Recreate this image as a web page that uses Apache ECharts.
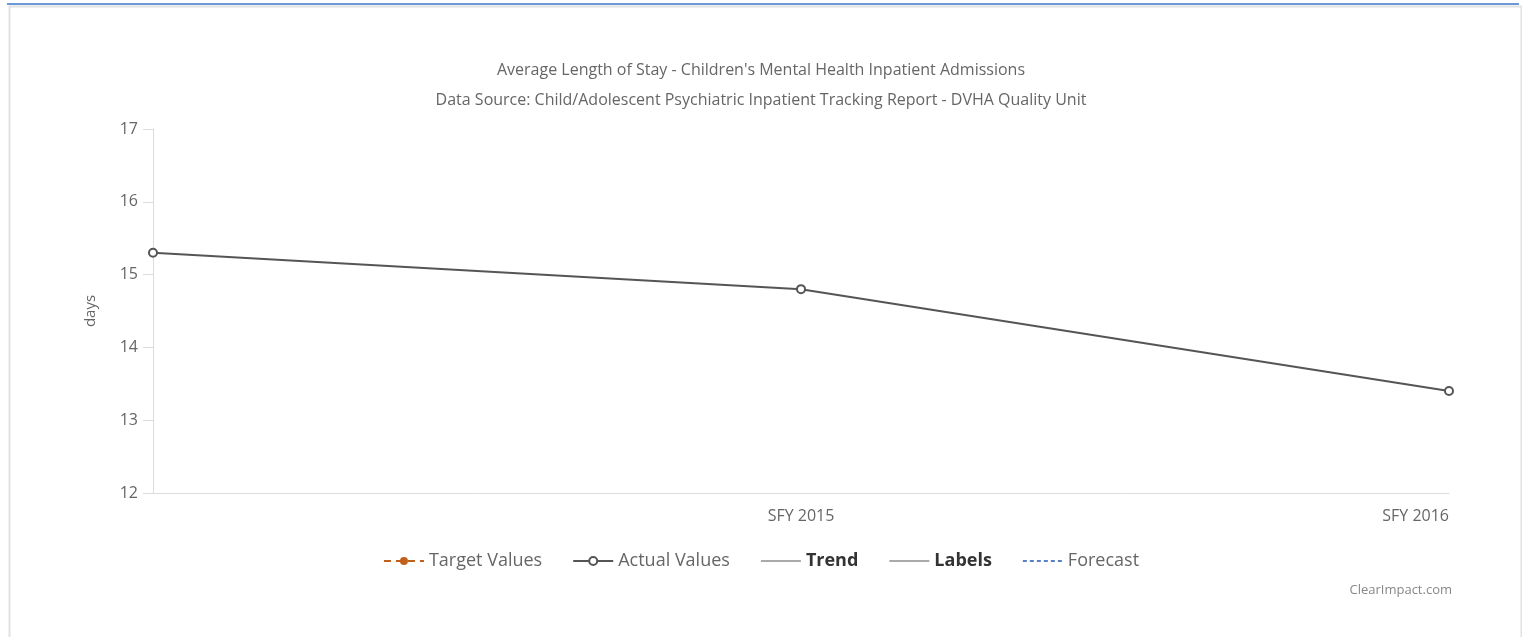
<!DOCTYPE html>
<html><head><meta charset="utf-8">
<script src="https://cdn.jsdelivr.net/npm/echarts@6/dist/echarts.min.js"></script>
<style>html,body{margin:0;padding:0;background:#fff}#c{width:1522px;height:637px}</style>
</head><body><div id="c"></div>
<script>
const categories = ['', 'SFY 2015', 'SFY 2016'];
const actualValues = [15.3, 14.8, 13.4];
const targetValues = [];
const trendValues = [];
const labelValues = [];
const forecastValues = [];
const yTicks = [12, 13, 14, 15, 16, 17];

const FONT = '"Open Sans", "Noto Sans", sans-serif';
const chart = echarts.init(document.getElementById('c'));
chart.setOption({
  animation: false,
  backgroundColor: '#fff',
  textStyle: { fontFamily: FONT },
  title: {
    left: 'center', top: 54,
    text: "Average Length of Stay - Children's Mental Health Inpatient Admissions",
    subtext: 'Data Source: Child/Adolescent Psychiatric Inpatient Tracking Report - DVHA Quality Unit',
    itemGap: 8,
    textStyle: { fontSize: 16, fontWeight: 'normal', color: '#666', fontFamily: FONT, lineHeight: 22 },
    subtextStyle: { fontSize: 16, color: '#666', fontFamily: FONT, lineHeight: 22 }
  },
  grid: { left: 153, right: 73, top: 129, bottom: 144, containLabel: false },
  xAxis: {
    type: 'category', data: categories, boundaryGap: false,
    axisLine: { lineStyle: { color: '#dcdcdc', width: 1 } },
    axisTick: { show: false },
    axisLabel: { color: '#666', fontSize: 16, margin: 15, alignMaxLabel: 'right', fontFamily: FONT },
    splitLine: { show: false }
  },
  yAxis: {
    type: 'value', min: yTicks[0], max: yTicks[yTicks.length - 1], interval: 1,
    name: 'days', nameLocation: 'middle', nameGap: 55,
    nameTextStyle: { color: '#666', fontSize: 15, fontFamily: FONT },
    axisLine: { show: true, lineStyle: { color: '#dcdcdc' } },
    axisTick: { show: true, length: 10, lineStyle: { color: '#dcdcdc' } },
    axisLabel: { color: '#666', fontSize: 16, margin: 15, fontFamily: FONT },
    splitLine: { show: false }
  },
  legend: {
    bottom: 62, left: 'center', itemGap: 30, itemWidth: 40, itemHeight: 10,
    textStyle: { fontSize: 18, color: '#666', fontFamily: FONT },
    data: [
      { name: 'Target Values' },
      { name: 'Actual Values' },
      { name: 'Trend', itemStyle: { opacity: 0 }, textStyle: { color: '#333', fontWeight: 'bold' } },
      { name: 'Labels', itemStyle: { opacity: 0 }, textStyle: { color: '#333', fontWeight: 'bold' } },
      { name: 'Forecast', itemStyle: { opacity: 0 } }
    ]
  },
  series: [
    { name: 'Target Values', type: 'line', data: targetValues, symbol: 'circle', symbolSize: 10,
      lineStyle: { color: '#c0601a', type: [7, 5], width: 2 }, itemStyle: { color: '#c0601a' } },
    { name: 'Actual Values', type: 'line', data: actualValues, symbol: 'emptyCircle', symbolSize: 8,
      lineStyle: { color: '#555', width: 2 }, itemStyle: { color: '#555', borderWidth: 1.5 } },
    { name: 'Trend', type: 'line', data: trendValues, symbol: 'none', showSymbol: false,
      lineStyle: { color: '#aaa', width: 1.5 }, itemStyle: { color: '#aaa' } },
    { name: 'Labels', type: 'line', data: labelValues, symbol: 'none', showSymbol: false,
      lineStyle: { color: '#aaa', width: 1.5 }, itemStyle: { color: '#aaa' } },
    { name: 'Forecast', type: 'line', data: forecastValues, symbol: 'none', showSymbol: false,
      lineStyle: { color: '#5a80c4', type: [4, 3], width: 1.5 }, itemStyle: { color: '#5a80c4' } }
  ],
  graphic: [
    { type: 'rect', left: 7, top: 4, shape: { width: 1512, height: 640 }, silent: true,
      style: { fill: 'none', stroke: '#e2e2e2', lineWidth: 2 } },
    { type: 'rect', left: 7, top: 3, shape: { width: 1512, height: 2 }, silent: true,
      style: { fill: '#6a97d8' } },
    { type: 'text', right: 70, top: 584, silent: true,
      style: { text: 'ClearImpact.com', fill: '#888', font: '13px "Open Sans", sans-serif' } }
  ]
});
</script></body></html>
